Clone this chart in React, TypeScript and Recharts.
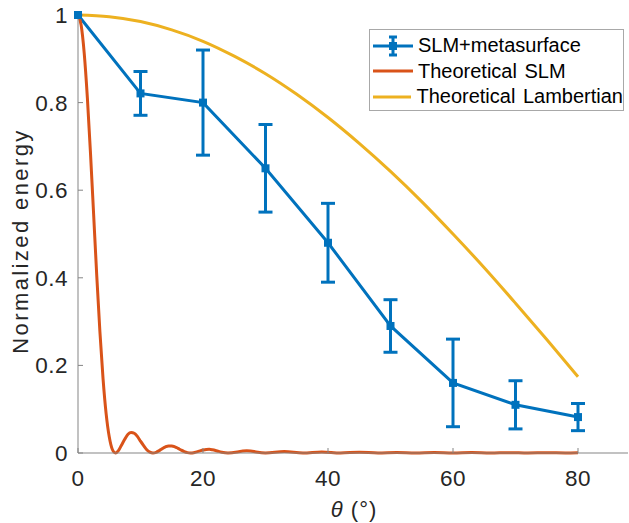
import { LineChart, Line, XAxis, YAxis, ErrorBar, Legend } from 'recharts';

// measured points (SLM + metasurface) with symmetric error
const thetaMeasured = [0, 10, 20, 30, 40, 50, 60, 70, 80];
const energyMeasured = [1.0, 0.821, 0.8, 0.65, 0.48, 0.29, 0.16, 0.11, 0.082];
const errorMeasured = [0, 0.05, 0.12, 0.1, 0.09, 0.06, 0.1, 0.055, 0.031];

// theoretical Lambertian curve
const thetaLambertian = [0, 5, 10, 15, 20, 25, 30, 35, 40, 45, 50, 55, 60, 65, 70, 75, 80];
const energyLambertian = [1, 0.996, 0.985, 0.966, 0.94, 0.906, 0.866, 0.819, 0.766, 0.707, 0.643, 0.574, 0.5, 0.423, 0.342, 0.259, 0.174];

// theoretical SLM curve (main lobe + side lobes)
const thetaSlm = [
  0, 0.5, 1, 1.5, 2, 2.5, 3, 3.5, 4, 4.5, 5, 5.5, 6, 6.5, 7, 7.5, 8, 8.5, 9, 9.5, 10, 10.5, 11, 11.5,
  12, 12.5, 13, 13.5, 14, 14.5, 15, 15.5, 16, 16.5, 17, 17.5, 18, 18.5, 19, 19.5, 20, 20.5, 21, 21.5,
  22, 22.5, 23, 24, 27, 30, 33, 36, 39, 42, 45, 48, 51, 54, 57, 60, 63, 66, 69, 72, 75, 78, 80,
];
const energySlm = [
  1, 0.977, 0.912, 0.811, 0.684, 0.545, 0.405, 0.278, 0.171, 0.09, 0.037, 0.008, 0, 0.006, 0.019, 0.032, 0.043, 0.047, 0.045, 0.038, 0.027, 0.017, 0.0075, 0.002,
  0, 0.0016, 0.0054, 0.01, 0.014, 0.0162, 0.0162, 0.0142, 0.0107, 0.0067, 0.0032, 0.0008, 0, 0.0007, 0.0027, 0.0048, 0.0068, 0.0081, 0.0083, 0.0074,
  0.0058, 0.0036, 0.0018, 0, 0.005, 0, 0.0033, 0, 0.0024, 0, 0.0018, 0, 0.0014, 0, 0.0011, 0, 0.0009, 0, 0.0008, 0, 0.0007, 0, 0.0004,
];

const xTicks = [0, 20, 40, 60, 80];
const yTicks = [0, 0.2, 0.4, 0.6, 0.8, 1];
const seriesNames = ['SLM+metasurface', 'Theoretical SLM', 'Theoretical Lambertian'];
const seriesColors = ['#0072BD', '#D95319', '#EDB120'];

const FONT = '"Liberation Sans", Arial, Helvetica, sans-serif';
const TEXT = '#262626';
const AXIS = '#858585';

const measuredData = thetaMeasured.map((t, i) => ({ theta: t, energy: energyMeasured[i], err: errorMeasured[i] }));
const lambertianData = thetaLambertian.map((t, i) => ({ theta: t, energy: energyLambertian[i] }));
const slmData = thetaSlm.map((t, i) => ({ theta: t, energy: energySlm[i] }));

const SquareDot = (props: any) => {
  const { cx, cy, index } = props;
  return <rect key={`sq-${index}`} x={cx - 4} y={cy - 4} width={8} height={8} fill={seriesColors[0]} />;
};

const XLabel = (props: any) => {
  const { x, y, width } = props.viewBox;
  return (
    <text x={x + width / 2 + 1} y={y + 64} textAnchor="middle" fontFamily={FONT} fontSize={22} letterSpacing={1} fill={TEXT}>
      <tspan fontStyle="italic">θ</tspan>
      <tspan> (°)</tspan>
    </text>
  );
};

const YLabel = (props: any) => {
  const { y, height } = props.viewBox;
  const cy = y + height / 2 + 7;
  return (
    <text x={28} y={cy} transform={`rotate(-90, 28, ${cy})`} textAnchor="middle" fontFamily={FONT} fontSize={22} letterSpacing={2.4} fill={TEXT}>
      Normalized energy
    </text>
  );
};

const LegendBox = () => (
  <div
    style={{
      width: 253,
      height: 77,
      border: '1px solid #a8a8a8',
      background: '#fff',
      fontFamily: FONT,
      fontSize: 20,
      color: '#000',
      paddingTop: 3,
      boxSizing: 'content-box',
    }}
  >
    {seriesNames.map((name, i) => (
      <div key={name} style={{ display: 'flex', alignItems: 'center', height: 25.5, whiteSpace: 'nowrap' }}>
        <svg width={40} height={24} style={{ marginLeft: 3, marginRight: 5 }}>
          <line x1={0} y1={12} x2={40} y2={12} stroke={seriesColors[i]} strokeWidth={3} />
          {i === 0 && (
            <g stroke={seriesColors[0]} strokeWidth={3}>
              <line x1={20} y1={3} x2={20} y2={21} />
              <line x1={16} y1={3} x2={24} y2={3} />
              <line x1={16} y1={21} x2={24} y2={21} />
              <rect x={16} y={8} width={8} height={8} fill={seriesColors[0]} strokeWidth={0} />
            </g>
          )}
        </svg>
        <span style={{ wordSpacing: 2 }}>{name}</span>
      </div>
    ))}
  </div>
);

const tickStyle = { fill: TEXT, fontSize: 22.5, fontFamily: FONT, letterSpacing: 0.5 };

export default function App() {
  return (
    <div style={{ position: 'absolute', left: 0, top: 0, background: '#fff' }}>
      <LineChart width={629} height={523} margin={{ top: 15, right: 1, left: 0, bottom: 0 }}>
        <XAxis
          xAxisId="top"
          orientation="top"
          type="number"
          dataKey="theta"
          domain={[0, 88]}
          ticks={xTicks}
          height={0}
          tickSize={-5}
          tickFormatter={() => ''}
          stroke={AXIS}
        />
        <XAxis
          type="number"
          dataKey="theta"
          domain={[0, 88]}
          ticks={xTicks}
          height={70}
          tickSize={-5}
          tickMargin={22}
          stroke={AXIS}
          tick={tickStyle}
          label={<XLabel />}
        />
        <YAxis
          type="number"
          domain={[0, 1]}
          ticks={yTicks}
          width={78}
          tickSize={-5}
          tickMargin={15}
          stroke={AXIS}
          tick={tickStyle}
          label={<YLabel />}
        />
        <Legend
          layout="vertical"
          align="center"
          verticalAlign="middle"
          content={<LegendBox />}
          wrapperStyle={{ left: 369, top: 29, width: 255 }}
        />
        <Line
          data={measuredData}
          dataKey="energy"
          name={seriesNames[0]}
          stroke={seriesColors[0]}
          strokeWidth={3}
          dot={SquareDot}
          activeDot={false}
          isAnimationActive={false}
        >
          <ErrorBar dataKey="err" direction="y" width={7} strokeWidth={3} stroke={seriesColors[0]} isAnimationActive={false} />
        </Line>
        <Line
          data={slmData}
          dataKey="energy"
          name={seriesNames[1]}
          type="monotone"
          stroke={seriesColors[1]}
          strokeWidth={3}
          dot={false}
          activeDot={false}
          isAnimationActive={false}
        />
        <Line
          data={lambertianData}
          dataKey="energy"
          name={seriesNames[2]}
          type="monotone"
          stroke={seriesColors[2]}
          strokeWidth={3}
          dot={false}
          activeDot={false}
          isAnimationActive={false}
        />
      </LineChart>
    </div>
  );
}
